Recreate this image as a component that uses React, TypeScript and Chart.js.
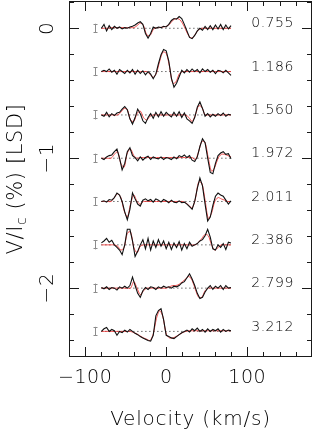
import React, { useEffect, useRef } from "react";
import { Chart, registerables } from "chart.js";

Chart.register(...registerables);

// ---- axes ----
const xMin = -120;
const xMax = 180;
const yMin = -2.53;
const yMax = 0.21;
const xTickValues = [-100, 0, 100];
const xTickLabels = ["\u2212100", "0", "100"];
const yTickValues = [0, -1, -2];
const yTickLabels = ["0", "\u22121", "\u22122"];
const xTitle = "Velocity (km/s)";

// ---- velocity grids ----
const obsVelocity = [
  -80, -76.8, -73.6, -70.4, -67.2, -64, -60.8, -57.6, -54.4, -51.2, -48, -44.8, -41.6, -38.4, -35.2, -32,
  -28.8, -25.6, -22.4, -19.2, -16, -12.8, -9.6, -6.4, -3.2, 0, 3.2, 6.4, 9.6, 12.8, 16, 19.2, 22.4, 25.6,
  28.8, 32, 35.2, 38.4, 41.6, 44.8, 48, 51.2, 54.4, 57.6, 60.8, 64, 67.2, 70.4, 73.6, 76.8, 80,
];
const modelVelocity = [
  -80, -76, -72, -68, -64, -60, -56, -52, -48, -44, -40, -36, -32, -28, -24, -20, -16, -12, -8, -4, 0, 4,
  8, 12, 16, 20, 24, 28, 32, 36, 40, 44, 48, 52, 56, 60, 64, 68, 72, 76, 80,
];

// ---- phases, offsets, error bars ----
const phaseLabels = ["0.755", "1.186", "1.560", "1.972", "2.011", "2.386", "2.799", "3.212"];
const profileOffsets = [0, -0.333, -0.667, -1.0, -1.333, -1.667, -2.0, -2.333];
const errorHalf = [0.035, 0.035, 0.035, 0.035, 0.035, 0.035, 0.035, 0.035];
const errorBarVelocity = -88;
const labelVelocity = 105;

// ---- observed Stokes V (%) ----
const obs1 = [0.0, 0.03, -0.02, 0.02, -0.01, 0.015, 0.0, 0.01, -0.005, 0.005, 0.0, 0.01, 0.015, 0.025, 0.04, 0.05, 0.03, -0.04, -0.075, -0.04, 0.01, 0.0, 0.01, 0.005, 0.015, 0.01, 0.03, 0.06, 0.075, 0.07, 0.09, 0.075, 0.03, -0.02, -0.07, -0.08, -0.055, -0.02, 0.0, -0.015, 0.015, -0.01, 0.02, -0.01, 0.025, -0.005, 0.03, -0.01, 0.025, -0.005, 0.02];
const obs2 = [0.0, 0.01, 0.0, 0.02, -0.005, 0.01, -0.02, 0.015, 0.0, -0.015, 0.01, -0.01, 0.015, -0.02, 0.01, -0.015, 0.005, -0.025, 0.0, -0.02, -0.055, -0.02, 0.06, 0.13, 0.17, 0.16, 0.08, -0.05, -0.12, -0.09, -0.04, 0.01, -0.01, 0.015, -0.005, 0.02, 0.0, 0.015, -0.01, 0.02, 0.0, 0.015, -0.005, 0.01, -0.015, 0.01, 0.005, -0.01, 0.01, -0.01, -0.03];
const obs3 = [0.0, -0.01, 0.02, -0.015, 0.01, -0.005, 0.015, 0.02, 0.045, 0.065, 0.04, -0.03, -0.07, -0.02, 0.045, 0.01, -0.045, -0.065, -0.02, 0.01, -0.025, 0.02, -0.015, 0.025, -0.01, 0.02, 0.0, -0.015, 0.02, -0.01, 0.025, -0.02, 0.015, -0.03, -0.045, -0.065, -0.02, 0.06, 0.1, 0.05, -0.01, 0.01, -0.015, 0.005, -0.01, 0.01, -0.005, 0.015, -0.01, 0.005, 0.0];
const obs4 = [0.0, -0.01, 0.01, 0.02, 0.025, 0.05, 0.07, 0.0, -0.09, -0.04, 0.05, 0.08, 0.02, 0.005, -0.02, 0.01, -0.015, 0.005, 0.015, -0.01, 0.01, 0.0, -0.005, 0.01, -0.01, 0.005, 0.0, -0.01, 0.01, -0.005, 0.02, 0.01, 0.025, 0.005, 0.02, -0.015, -0.025, 0.01, 0.09, 0.15, 0.12, 0.0, -0.11, -0.12, -0.04, 0.02, 0.04, 0.05, 0.03, 0.035, -0.005];
const obs5 = [0.0, 0.005, -0.005, 0.015, 0.01, 0.03, 0.065, 0.05, 0.0, -0.08, -0.14, -0.06, 0.065, 0.02, -0.02, -0.035, 0.01, 0.02, 0.005, 0.015, -0.005, 0.02, 0.01, -0.005, 0.015, 0.005, -0.01, 0.01, -0.005, -0.01, 0.005, -0.01, -0.005, -0.02, -0.04, -0.06, 0.0, 0.1, 0.18, 0.12, -0.02, -0.15, -0.12, -0.03, 0.04, 0.065, 0.05, 0.04, 0.01, -0.02, 0.005];
const obs6 = [0.015, 0.03, 0.05, 0.02, 0.035, 0.0, -0.02, -0.04, -0.075, 0.0, 0.12, 0.12, 0.03, -0.09, -0.05, 0.0, 0.04, -0.03, 0.05, -0.04, 0.03, -0.02, 0.04, -0.01, 0.03, -0.03, 0.02, -0.035, 0.015, -0.02, 0.025, -0.04, 0.01, -0.03, 0.02, -0.01, 0.0, 0.01, 0.03, 0.04, 0.07, 0.12, 0.06, -0.03, -0.04, 0.0, -0.02, 0.01, -0.035, 0.02, 0.015];
const obs7 = [0.005, -0.005, 0.01, -0.01, 0.005, 0.0, -0.015, 0.01, 0.0, 0.015, 0.0, 0.02, 0.085, 0.02, -0.04, -0.07, -0.02, 0.005, -0.01, 0.01, 0.005, -0.01, 0.01, 0.0, 0.015, 0.005, 0.01, 0.0, 0.015, 0.01, 0.02, 0.04, 0.05, 0.08, 0.11, 0.07, 0.02, -0.04, -0.08, -0.07, -0.03, 0.0, 0.02, -0.01, 0.015, 0.0, 0.02, -0.01, 0.02, 0.0, 0.005];
const obs8 = [0.0, 0.02, 0.03, 0.0, 0.015, 0.005, -0.03, 0.0, -0.01, 0.01, -0.005, 0.015, 0.0, -0.015, -0.025, -0.04, -0.05, -0.06, -0.07, -0.075, -0.03, 0.12, 0.16, 0.175, 0.09, -0.03, -0.04, -0.05, -0.055, -0.04, -0.025, -0.01, 0.0, 0.01, -0.005, 0.02, 0.005, 0.025, 0.0, 0.015, -0.005, 0.02, 0.0, 0.015, 0.005, 0.02, -0.005, 0.015, 0.0, 0.01, 0.005];

// ---- model Stokes V (%) ----
const model1 = [0, 0, 0, 0.005, 0.005, 0.005, 0.005, 0.005, 0.005, 0.005, 0.005, 0.02, 0.04, 0.02, -0.05, -0.055, -0.01, 0.005, 0.005, 0.01, 0.015, 0.03, 0.06, 0.075, 0.07, 0.04, -0.01, -0.06, -0.075, -0.045, -0.01, 0, 0, 0, 0, 0, 0, 0, 0, 0, 0];
const model2 = [0, 0, 0, 0, 0, 0, 0, 0, 0, 0, 0, 0, 0, 0, 0, -0.02, -0.045, -0.01, 0.08, 0.15, 0.14, 0.04, -0.09, -0.08, -0.02, 0, 0, 0, 0, 0, 0, 0, 0, 0, 0, 0, 0, 0, 0, 0, 0];
const model3 = [0, 0, 0, 0, 0, 0, 0.02, 0.05, 0.04, -0.04, -0.05, 0.01, 0.03, -0.02, -0.04, -0.01, 0, 0, 0, 0, 0, 0, 0, 0, 0, 0, 0, -0.02, -0.05, 0.0, 0.07, 0.06, 0.0, 0, 0, 0, 0, 0, 0, 0, 0];
const model4 = [0, 0, 0, 0, 0.03, 0.05, -0.04, -0.07, 0.04, 0.07, 0.02, 0.0, 0.005, 0.005, 0.005, 0.005, 0.005, 0.005, 0.005, 0.005, 0.005, 0.005, 0.005, 0.005, 0.005, 0.005, 0.005, 0.005, 0.005, -0.01, 0.05, 0.13, 0.12, 0.0, -0.1, -0.07, 0.0, 0.03, 0.03, 0.02, 0.01];
const model5 = [0, 0, 0, 0, 0.03, 0.06, 0.03, -0.07, -0.12, -0.02, 0.05, 0.0, -0.02, 0, 0, 0, 0, 0, 0, 0, 0, 0, 0, 0, 0, 0, -0.01, -0.03, -0.05, 0.02, 0.15, 0.14, 0.01, -0.13, -0.09, 0.0, 0.03, 0.02, 0.01, 0.0, 0.0];
const model6 = [0, 0, 0, 0, 0, -0.01, -0.04, -0.02, 0.09, 0.1, -0.02, -0.06, -0.01, 0, 0, 0, 0, 0, 0, 0, 0, 0, 0, 0, 0, 0, 0, 0, 0, 0, 0.02, 0.05, 0.08, 0.07, 0.0, -0.04, -0.02, 0, 0, 0, 0];
const model7 = [0, 0, 0, 0, 0, 0, 0, 0, 0, 0, 0.05, 0.0, -0.05, -0.02, 0, 0, 0, 0, 0, 0, 0, 0.01, 0.02, 0.02, 0.03, 0.05, 0.07, 0.09, 0.06, -0.01, -0.07, -0.07, -0.02, 0, 0, 0, 0, 0, 0, 0, 0];
const model8 = [0, 0, 0, 0, 0, 0, 0, 0, 0, 0, -0.01, -0.02, -0.035, -0.05, -0.06, -0.07, -0.02, 0.1, 0.16, 0.11, -0.02, -0.05, -0.05, -0.04, -0.025, -0.01, 0.0, 0.005, 0.005, 0.005, 0.005, 0.005, 0.005, 0.005, 0.005, 0.005, 0.005, 0.005, 0.005, 0.005, 0.005];

const observed = [obs1, obs2, obs3, obs4, obs5, obs6, obs7, obs8];
const models = [model1, model2, model3, model4, model5, model6, model7, model8];

const FONT = '"DejaVu Sans", sans-serif';
const W = "200";
const INK = "#1a1a1a";
const TEXT = "#000";

const pgplotDecor = {
  id: "pgplotDecor",
  afterDraw(chart: any) {
    const { ctx, chartArea: a, scales } = chart;
    const x = scales.x;
    const y = scales.y;
    ctx.save();
    ctx.strokeStyle = INK;
    ctx.lineWidth = 1;
    ctx.strokeRect(a.left + 0.5, a.top + 0.5, a.right - a.left - 1, a.bottom - a.top - 1);
    ctx.beginPath();
    for (let k = -6; k <= 9; k++) {
      const v = k * 20;
      if (v <= xMin || v >= xMax) continue;
      const len = v % 100 === 0 ? 10 : 5;
      const px = Math.round(x.getPixelForValue(v)) + 0.5;
      ctx.moveTo(px, a.bottom);
      ctx.lineTo(px, a.bottom - len);
      ctx.moveTo(px, a.top);
      ctx.lineTo(px, a.top + len);
    }
    for (let k = -13; k <= 1; k++) {
      const v = k * 0.2;
      if (v <= yMin || v >= yMax) continue;
      const len = k % 5 === 0 ? 10 : 5;
      const py = Math.round(y.getPixelForValue(v)) + 0.5;
      ctx.moveTo(a.left, py);
      ctx.lineTo(a.left + len, py);
      ctx.moveTo(a.right, py);
      ctx.lineTo(a.right - len, py);
    }
    ctx.stroke();

    // error bars
    ctx.strokeStyle = "#8c8c8c";
    ctx.beginPath();
    profileOffsets.forEach((off, i) => {
      const px = Math.round(x.getPixelForValue(errorBarVelocity)) + 0.5;
      const y1 = y.getPixelForValue(off + errorHalf[i]);
      const y2 = y.getPixelForValue(off - errorHalf[i]);
      ctx.moveTo(px, y1);
      ctx.lineTo(px, y2);
      ctx.moveTo(px - 2, Math.round(y1) + 0.5);
      ctx.lineTo(px + 2, Math.round(y1) + 0.5);
      ctx.moveTo(px - 2, Math.round(y2) - 0.5);
      ctx.lineTo(px + 2, Math.round(y2) - 0.5);
    });
    ctx.stroke();

    ctx.fillStyle = TEXT;
    ctx.font = `${W} 14px ${FONT}`;
    (ctx as any).letterSpacing = "0.5px";
    ctx.textAlign = "left";
    ctx.textBaseline = "middle";
    phaseLabels.forEach((lab, i) => {
      ctx.fillText(lab, x.getPixelForValue(labelVelocity), y.getPixelForValue(profileOffsets[i]) - 4.5);
    });

    // x tick labels
    ctx.font = `${W} 19px ${FONT}`;
    (ctx as any).letterSpacing = "0.5px";
    ctx.textAlign = "center";
    ctx.textBaseline = "alphabetic";
    xTickValues.forEach((v, i) => {
      ctx.fillText(xTickLabels[i], x.getPixelForValue(v), a.bottom + 26);
    });

    // y tick labels (rotated)
    ctx.font = `${W} 20px ${FONT}`;
    yTickValues.forEach((v, i) => {
      ctx.save();
      ctx.translate(a.left - 16, y.getPixelForValue(v));
      ctx.rotate(-Math.PI / 2);
      ctx.textAlign = "center";
      ctx.fillText(yTickLabels[i], 0, 0);
      ctx.restore();
    });

    // x title
    ctx.font = `${W} 20px ${FONT}`;
    (ctx as any).letterSpacing = "0.8px";
    ctx.textAlign = "center";
    ctx.fillText(xTitle, (a.left + a.right) / 2, a.bottom + 68);

    // y title with subscript
    (ctx as any).letterSpacing = "0.6px";
    const mainFont = `${W} 21px ${FONT}`;
    const subFont = `${W} 14px ${FONT}`;
    const parts = [
      { t: "V/I", f: mainFont, dy: 0 },
      { t: "c", f: subFont, dy: 4 },
      { t: " (%) [LSD]", f: mainFont, dy: 0 },
    ];
    let total = 0;
    const widths = parts.map((p) => {
      ctx.font = p.f;
      const w = ctx.measureText(p.t).width;
      total += w;
      return w;
    });
    ctx.save();
    ctx.translate(a.left - 47, (a.top + a.bottom) / 2 + total / 2);
    ctx.rotate(-Math.PI / 2);
    ctx.textAlign = "left";
    let cx = 0;
    parts.forEach((p, i) => {
      ctx.font = p.f;
      ctx.fillText(p.t, cx, p.dy);
      cx += widths[i];
    });
    ctx.restore();
    ctx.restore();
  },
};

export default function App() {
  const ref = useRef<HTMLCanvasElement | null>(null);
  useEffect(() => {
    if (!ref.current) return;
    const datasets: any[] = [];
    profileOffsets.forEach((off, k) => {
      datasets.push({
        data: [
          { x: obsVelocity[0], y: off },
          { x: obsVelocity[obsVelocity.length - 1], y: off },
        ],
        borderColor: "#222",
        borderWidth: 1,
        borderDash: [1, 3],
        pointRadius: 0,
        order: 3,
      });
      datasets.push({
        data: obsVelocity.map((v, i) => ({ x: v, y: observed[k][i] + off })),
        borderColor: "#111",
        borderWidth: 1.1,
        pointRadius: 0,
        tension: 0,
        order: 1,
      });
      datasets.push({
        data: modelVelocity.map((v, i) => ({ x: v, y: models[k][i] + off })),
        borderColor: "rgba(240,50,50,0.85)",
        borderWidth: 1,
        pointRadius: 0,
        tension: 0.3,
        order: 2,
      });
    });
    const chart = new Chart(ref.current, {
      type: "line",
      data: { datasets },
      options: {
        animation: false,
        responsive: false,
        devicePixelRatio: 1,
        layout: { padding: { left: 69, right: 2, top: 1, bottom: 81 } },
        plugins: { legend: { display: false }, tooltip: { enabled: false } },
        scales: {
          x: { type: "linear", min: xMin, max: xMax, display: false },
          y: { type: "linear", min: yMin, max: yMax, display: false },
        },
      },
      plugins: [pgplotDecor],
    });
    return () => chart.destroy();
  }, []);
  return (
    <div style={{ position: "fixed", left: 0, top: 0, width: 314, height: 438, background: "#fff" }}>
      <canvas ref={ref} width={314} height={438} />
    </div>
  );
}
